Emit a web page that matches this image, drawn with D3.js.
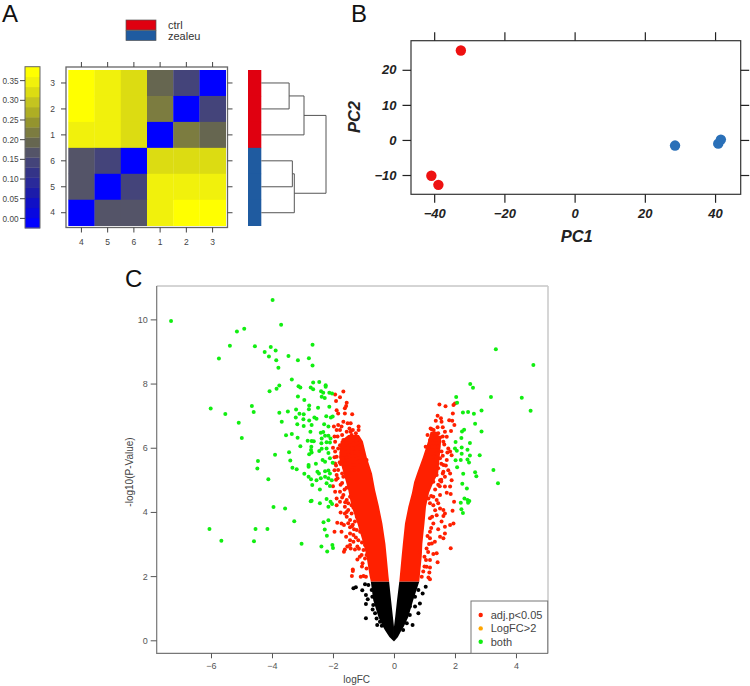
<!DOCTYPE html>
<html>
<head>
<meta charset="utf-8">
<script src="https://d3js.org/d3.v7.min.js"></script>
<style>
	html, body { margin: 0; padding: 0; background: #fff; }
	svg { display: block; }
	text { font-family: "Liberation Sans", Arial, sans-serif; }
</style>
</head>
<body>
<div id="cContainer"></div>
<script>
// panel A
var heatRows = ["3", "2", "1", "6", "5", "4"];
var heatCols = ["4", "5", "6", "1", "2", "3"];
var heatValues = [
	[0.38, 0.35, 0.33, 0.20, 0.14, 0.00],
	[0.38, 0.35, 0.33, 0.23, 0.00, 0.14],
	[0.35, 0.35, 0.33, 0.00, 0.23, 0.20],
	[0.17, 0.14, 0.00, 0.33, 0.33, 0.33],
	[0.17, 0.00, 0.14, 0.35, 0.35, 0.35],
	[0.00, 0.17, 0.17, 0.35, 0.38, 0.38]
];
var keyColors = ["#0000ff", "#0808e0", "#1010c6", "#1c1caa", "#2a2a9a", "#343488", "#44447a", "#545468",
	"#666650", "#7c7c40", "#94942e", "#aeae24", "#c4c420", "#dcdc12", "#f1f10c", "#ffff00"];
var keyTicks = [0, 0.05, 0.10, 0.15, 0.20, 0.25, 0.30, 0.35];
var groupNames = ["ctrl", "zealeu"];
var groupColors = ["#e00010", "#1f5ba0"];
var rowGroups = ["ctrl", "ctrl", "ctrl", "zealeu", "zealeu", "zealeu"];
// dendrogram merge heights, 0 = leaves, 1 = root
var dendroTree = {h: 1, kids: [
	{h: 0.66, kids: [{h: 0.43, kids: [{leaf: "3"}, {leaf: "2"}]}, {leaf: "1"}]},
	{h: 0.51, kids: [{h: 0.48, kids: [{leaf: "6"}, {leaf: "5"}]}, {leaf: "4"}]}
]};

// panel B
var pcaCtrl = [[-32.4, 25.5], [-40.8, -10.2], [-38.8, -12.8]];
var pcaZealeu = [[28.6, -1.6], [40.9, -1.05], [41.65, 0.1]];
var pcaXTicks = [-40, -20, 0, 20, 40];
var pcaYTicks = [-10, 0, 10, 20];

// panel C, dense parts of the cloud as outlines, the rest as single points
var redLeftP = [1.83, 2.0, 2.61, 3.0, 3.64, 4.2, 4.68, 5.2, 5.7, 6.2, 6.4];
var redLeftOuter = [-0.76, -0.80, -0.90, -1.0, -1.2, -1.4, -1.5, -1.65, -1.8, -1.75, -1.5];
var redLeftInner = [-0.16, -0.18, -0.24, -0.28, -0.38, -0.50, -0.62, -0.72, -0.89, -1.02, -1.15];
var redRightP = [1.83, 2.61, 3.0, 3.64, 4.16, 4.6, 4.93, 5.21, 5.71, 6.24, 6.5];
var redRightOuter = [0.83, 0.91, 0.93, 1.0, 1.05, 1.15, 1.3, 1.45, 1.5, 1.55, 1.4];
var redRightInner = [0.175, 0.25, 0.29, 0.36, 0.47, 0.59, 0.66, 0.76, 0.95, 1.13, 1.2];
var blackP = [-0.04, 0.1, 0.32, 0.42, 0.73, 1.25, 1.83];
var blackLeftOuter = [0, -0.15, -0.30, -0.36, -0.51, -0.68, -0.76];
var blackLeftInner = [0, 0, 0, 0, -0.035, -0.095, -0.16];
var blackRightOuter = [0, 0.13, 0.25, 0.32, 0.47, 0.63, 0.83];
var blackRightInner = [0, 0, 0, 0, 0.04, 0.10, 0.175];

var blackPoints = [[-1.33,1.62],[-1.25,1.65],[-1.04,1.56],[-0.95,1.75],[-0.84,1.72],[-0.92,1.41],[-0.86,1.28],[-0.92,1.13],
	[-0.68,1.10],[-0.70,0.96],[-0.92,0.69],[-0.55,0.48],[-0.40,0.45],[-0.62,0.84],[-0.57,0.68],[-0.46,0.58],[1.04,1.67],
	[0.94,1.46],[0.80,1.57],[0.85,1.15],[0.69,1.05],[0.80,0.84],[0.52,0.79],[0.61,0.48],[0.42,0.53],[0.52,1.05],[0.69,1.36],
	[-0.73,1.57],[-0.71,1.36],[0.30,0.32]];

var redPoints = [[-1.93,7.66],[-1.77,7.57],[-1.66,7.75],[-1.90,7.46],[-1.55,7.40],[-1.57,7.30],[-1.61,7.23],[-1.88,7.17],
	[-1.83,7.07],[-1.61,7.07],[-1.37,7.04],[-1.97,6.66],[-1.66,6.81],[-1.83,6.71],[-1.72,6.66],[-1.88,6.55],[-1.77,6.55],
	[-1.52,6.76],[-1.42,6.76],[-1.46,6.60],[-1.42,6.50],[-1.16,6.66],[-1.16,6.55],[-1.39,6.40],[-1.22,6.34],[-1.33,6.26],
	[-1.12,6.19],[-1.93,6.19],[-1.66,6.24],[-1.55,6.14],[-1.44,6.08],[-1.22,6.14],[-1.33,5.98],[-1.77,6.08],[-1.83,5.98],
	[-1.61,5.98],[-1.12,5.98],[-1.93,5.88],[-1.72,5.85],[-1.50,5.88],[-1.28,5.85],[-1.06,5.88],[-1.88,5.72],[-1.66,5.67],
	[-1.22,5.67],[-1.0,5.72],[-1.93,5.51],[-1.75,5.49],[-1.55,5.51],[-1.33,5.46],[-1.12,5.57],[-0.90,5.62],[-1.83,5.31],
	[-1.61,5.36],[-1.39,5.31],[-1.88,5.15],[-1.66,5.10],[-1.9,5.0],[-1.7,4.9],[-1.55,4.75],[-1.7,5.2],[-2.0,4.8],
	[-1.55,5.7],[-1.45,5.75],[-1.78,5.55],[-1.6,5.5],[-1.5,5.1],
	[-1.35,2.21],[-1.35,2.16],[-1.38,2.0],[-1.09,1.98],[-1.0,2.0],[-0.92,1.98],[-1.64,2.76],[-1.61,2.83],[-1.53,2.92],
	[-1.44,2.97],[-1.42,2.86],[-1.28,2.83],[-1.20,2.92],[-1.20,2.52],[-1.03,2.4],[-1.06,2.66],[-0.95,2.55],[-1.57,3.23],
	[-1.44,3.33],[-1.33,3.28],[-1.95,3.38],[-1.72,3.38],[-1.72,3.64],[-1.86,3.66],[-1.64,3.59],[-1.44,3.52],[-1.31,3.46],
	[-1.55,3.85],[-1.44,3.75],[-1.28,3.70],[-1.22,3.85],[-1.39,3.95],[-1.75,3.98],[-1.88,4.21],[-1.61,4.16],[-1.50,4.06],
	[-1.33,4.14],[-1.55,4.37],[-1.66,4.53],[-1.44,4.47],[-1.88,4.42],[-1.77,4.63],[-1.93,4.63],[-1.17,3.12],[-1.11,3.38],
	[-0.95,2.97],[-0.90,2.24],[-1.0,2.81],[-0.90,2.66],[-1.44,3.12],[-1.33,3.07],[-1.22,3.44],[-1.39,4.21],[-1.61,3.95],
	[-1.50,4.27],[-1.77,4.32],
	[-1.05,2.3],[-1.12,2.6],[-1.15,2.85],[-1.05,3.05],[-1.25,3.2],[-1.38,3.55],[-1.5,3.65],[-1.35,3.6],[-1.55,4.0],[-1.6,4.3],
	[-1.7,4.45],[-1.62,4.7],[-1.75,4.85],[-1.85,5.05],[-1.95,5.3],[-1.9,5.45],[-1.95,5.7],[-2.0,6.0],[-1.95,6.35],[-1.85,6.35],
	[-1.7,6.4],[-1.55,6.5],[-1.35,6.55],[-1.25,6.45],
	[1.86,2.87],[1.43,2.43],[1.18,2.27],[1.07,2.29],[1.16,2.11],[1.13,1.96],[1.18,1.90],[0.96,2.14],[0.91,1.98],[1.40,2.71],
	[1.29,2.69],[1.24,3.02],[1.18,3.18],[1.34,3.07],[1.51,3.23],[1.67,3.33],[1.62,3.18],[1.45,3.46],[1.67,3.54],[1.18,3.38],
	[1.29,3.64],[1.95,3.64],[1.56,3.70],[1.84,3.59],[1.62,3.87],[1.67,3.95],[1.40,3.90],[1.18,3.80],[1.92,4.04],[1.51,4.11],
	[1.29,4.21],[1.45,4.27],[1.62,4.06],[1.18,4.27],[1.29,4.47],[1.51,4.53],[1.73,4.6],[1.86,4.56],[1.40,4.37],[1.13,4.42],
	[1.97,4.32],[0.85,2.76],[1.0,2.6],[1.07,2.86],[1.18,2.5],
	[1.0,2.3],[1.05,2.5],[1.12,2.75],[1.15,3.0],[1.1,3.25],[1.22,3.5],[1.25,3.85],[1.35,4.05],[1.22,4.5],[1.35,4.7],[1.45,4.85],
	[1.55,4.95],[1.6,5.2],[1.55,5.5],[1.7,5.45],[1.6,5.75],[1.75,5.85],[1.65,6.1],[1.6,6.35],[1.3,6.55],[1.1,6.4],[1.2,6.6],
	[1.49,7.35],[1.69,7.29],[1.95,7.33],[2.0,7.38],[1.93,7.07],[1.43,7.0],[1.37,6.84],[1.54,6.92],[1.56,6.81],[1.81,6.86],
	[1.91,6.84],[1.98,6.71],[1.24,6.58],[1.43,6.64],[1.60,6.64],[1.87,6.52],[1.67,6.50],[1.32,6.45],[1.45,6.45],[1.73,6.34],
	[1.18,6.24],[1.51,6.32],[1.34,6.24],[1.62,6.19],[1.40,6.14],[1.04,6.03],[1.24,6.03],[1.45,6.03],[1.78,5.98],[1.84,5.88],
	[1.13,5.88],[1.40,5.82],[1.56,5.88],[1.89,5.77],[1.29,5.72],[1.51,5.67],[1.02,5.62],[1.73,5.62],[1.34,5.51],[1.62,5.46],
	[1.78,5.30],[1.45,5.36],[1.62,5.25],[1.84,5.20],[1.40,5.15],[1.67,5.10],[1.51,4.99],[1.89,4.99],[1.29,4.94],[1.67,4.79],
	[1.84,4.79],[1.55,5.0],[1.5,4.8]];

var greenPoints = [[-7.31,9.95],[-3.98,10.60],[-3.70,9.83],[-5.15,9.62],[-4.91,9.71],[-5.38,9.18],[-5.74,8.78],[-4.56,9.16],
	[-4.24,8.98],[-4.04,9.14],[-3.88,9.03],[-4.10,8.84],[-3.86,8.73],[-3.79,8.49],[-3.46,8.86],[-3.15,8.73],[-2.79,8.79],
	[-2.67,9.21],[-2.67,8.56],[-3.35,8.13],[-3.76,7.94],[-3.85,7.84],[-4.08,7.76],[-3.13,7.92],[-3.07,7.88],[-2.73,7.88],
	[-2.65,7.82],[-2.65,8.03],[-2.45,8.05],[-2.24,7.95],[-2.24,7.90],[-2.39,7.76],[-2.32,7.71],[-2.37,7.59],[-2.27,7.55],
	[-2.12,7.71],[-2.03,7.69],[-3.15,7.60],[-2.94,7.49],[-2.78,7.32],[-2.79,7.20],[-2.49,7.25],[-2.12,7.28],[-6.01,7.22],
	[-5.53,7.05],[-4.66,7.30],[-4.60,7.11],[-5.09,6.78],[-4.99,6.30],[-3.76,7.09],[-3.48,7.13],[-3.21,7.19],[-3.10,7.06],
	[-2.96,7.04],[-3.22,6.94],[-2.97,6.89],[-2.78,6.85],[-2.61,6.94],[-2.54,6.90],[-2.22,6.98],[-2.07,6.94],[-2.01,6.97],
	[-3.68,6.81],[-3.17,6.73],[-2.96,6.68],[-2.70,6.71],[-2.29,6.73],[-2.15,6.66],[-2.74,6.50],[-3.54,6.39],[-3.35,6.43],
	[-3.16,6.31],[-2.40,6.47],[-2.32,6.49],[-2.83,6.22],[-2.70,6.21],[-2.63,6.20],[-2.37,6.29],[-2.26,6.37],[-2.15,6.37],
	[-2.08,6.29],[-3.07,6.05],[-2.71,6.03],[-2.38,6.14],[-2.21,6.17],[-2.10,6.16],[-2.72,5.93],[-2.45,5.90],[-2.37,5.97],
	[-2.21,5.98],[-2.15,5.84],[-3.44,5.86],[-3.90,5.78],[-2.78,5.80],[-2.70,5.85],[-4.46,5.59],[-4.48,5.35],[-3.40,5.60],
	[-2.34,5.62],[-2.26,5.56],[-2.10,5.67],[-2.01,5.53],[-2.56,5.50],[-2.80,5.46],[-2.80,5.41],[-3.33,5.38],[-3.19,5.33],
	[-2.94,5.19],[-2.80,5.10],[-2.72,5.02],[-2.51,5.25],[-2.46,5.20],[-2.26,5.27],[-2.15,5.29],[-2.10,5.20],[-2.26,5.10],
	[-2.15,5.05],[-2.54,4.99],[-2.40,5.05],[-2.04,4.99],[-4.12,5.02],[-2.68,4.84],[-2.43,4.70],[-2.21,4.89],[-2.10,4.81],
	[-2.73,4.33],[-2.70,4.35],[-2.43,4.27],[-2.21,4.40],[-2.08,4.32],[-2.03,4.25],[-2.15,4.16],[-3.95,4.15],[-3.57,4.11],
	[-3.27,3.71],[-2.31,3.68],[-2.15,3.74],[-2.27,3.45],[-2.20,3.26],[-3.03,3.01],[-2.38,2.92],[-2.19,2.77],[-2.02,2.97],
	[-2.0,2.88],[-6.05,3.47],[-5.66,3.10],[-4.54,3.47],[-4.15,3.47],[-4.59,3.09],
	[3.34,9.07],[4.57,8.58],[2.50,7.99],[2.59,7.87],[2.04,7.58],[2.07,7.40],[3.18,7.58],[4.19,7.56],[4.48,7.15],[2.26,7.10],
	[2.43,7.11],[2.62,7.06],[2.87,7.16],[2.66,6.75],[2.30,6.56],[2.23,6.51],[2.87,6.51],[2.21,6.30],[2.02,6.18],[2.49,6.15],
	[2.0,5.98],[2.06,5.91],[2.22,6.01],[2.41,5.94],[2.22,5.81],[2.49,5.76],[2.81,5.77],[2.02,5.61],[2.19,5.62],[2.41,5.63],
	[2.46,5.54],[2.07,5.39],[2.27,5.19],[2.66,5.24],[2.70,5.11],[3.26,5.31],[2.24,4.88],[2.39,4.73],[3.41,4.89],[2.31,4.42],
	[2.41,4.37],[2.47,4.34],[2.43,4.29],[2.19,4.29],[2.21,4.08],[2.26,3.97]];

var volcanoXTicks = [-6, -4, -2, 0, 2, 4];
var volcanoYTicks = [0, 2, 4, 6, 8, 10];
var legendNames = ["adj.p<0.05", "LogFC>2", "both"];
var legendColors = ["#ff2000", "#ffa500", "#11ee11"];

var svg = d3.select("#cContainer").append("svg")
	.attr("width", 750)
	.attr("height", 686);

function panelLetter(label, x, y) {
	svg.append("text")
		.attr("x", x)
		.attr("y", y)
		.attr("font-size", 24)
		.attr("fill", "#111")
		.text(label);
}

panelLetter("A", 2, 22);
panelLetter("B", 351, 22);
panelLetter("C", 125, 287);

function styleAxis(g, color, size, weight, style) {
	g.select(".domain").remove();
	g.selectAll("line").attr("stroke", color);
	g.selectAll("text")
		.attr("fill", color)
		.attr("font-size", size)
		.attr("font-weight", weight)
		.attr("font-style", style)
		.style("font-family", "'Liberation Sans', Arial, sans-serif");
}

function drawHeatmap() {
	var x = d3.scaleBand().domain(heatCols).range([68.3, 225.7]);
	var y = d3.scaleBand().domain(heatRows).range([70, 225.7]);
	var color = d3.scaleQuantize().domain([-0.0244, 0.3854]).range(keyColors);

	heatValues.forEach(function(row, i_rows) {
		row.forEach(function(v, i_cols) {
			svg.append("rect")
				.attr("x", x(heatCols[i_cols]))
				.attr("y", y(heatRows[i_rows]))
				.attr("width", x.bandwidth() + 0.3)
				.attr("height", y.bandwidth() + 0.3)
				.attr("fill", color(v));
		});
	});

	svg.append("rect")
		.attr("x", 66)
		.attr("y", 67)
		.attr("width", 161.5)
		.attr("height", 160.5)
		.attr("fill", "none")
		.attr("stroke", "#666")
		.attr("stroke-width", 1.3);

	var axes = [
		{axis: d3.axisBottom(x), at: [0, 227.5], labels: true},
		{axis: d3.axisTop(x), at: [0, 67], labels: false},
		{axis: d3.axisLeft(y), at: [66, 0], labels: true},
		{axis: d3.axisRight(y), at: [227.5, 0], labels: false}
	];
	axes.forEach(function(a) {
		var g = svg.append("g")
			.attr("transform", "translate(" + a.at[0] + "," + a.at[1] + ")")
			.call(a.axis.tickSize(5).tickPadding(6));
		styleAxis(g, "#444", 8.5, "normal", "normal");
		if (!a.labels) {
			g.selectAll("text").remove();
		}
	});

	// colour key
	var keyY = d3.scaleLinear().domain([-0.0244, 0.3854]).range([228, 66.7]);
	var step = (0.3854 + 0.0244) / keyColors.length;
	keyColors.forEach(function(c, i) {
		svg.append("rect")
			.attr("x", 25)
			.attr("y", keyY(-0.0244 + (i + 1) * step))
			.attr("width", 15)
			.attr("height", keyY(-0.0244) - keyY(-0.0244 + step) + 0.3)
			.attr("fill", c);
	});
	svg.append("rect")
		.attr("x", 25)
		.attr("y", 66.7)
		.attr("width", 15)
		.attr("height", 161.3)
		.attr("fill", "none")
		.attr("stroke", "#666")
		.attr("stroke-width", 1);
	var keyAxis = svg.append("g")
		.attr("transform", "translate(25,0)")
		.call(d3.axisLeft(keyY).tickValues(keyTicks).tickFormat(d3.format(".2f")).tickSize(0).tickPadding(6.5));
	styleAxis(keyAxis, "#444", 8.2, "normal", "normal");
	keyTicks.forEach(function(t) {
		svg.append("line")
			.attr("x1", 20)
			.attr("x2", 25)
			.attr("y1", keyY(t))
			.attr("y2", keyY(t))
			.attr("stroke", "#444");
	});

	// group legend
	var groupColor = d3.scaleOrdinal().domain(groupNames).range(groupColors);
	groupNames.forEach(function(n, i) {
		svg.append("rect")
			.attr("x", 126)
			.attr("y", 20 + i * 10.5)
			.attr("width", 30)
			.attr("height", 10)
			.attr("fill", groupColor(n))
			.attr("stroke", "#555")
			.attr("stroke-width", 0.7);
		svg.append("text")
			.attr("x", 168)
			.attr("y", 29.3 + i * 10.7)
			.attr("font-size", 11)
			.attr("fill", "#333")
			.text(n);
	});

	// side bar
	heatRows.forEach(function(r, i) {
		svg.append("rect")
			.attr("x", 248)
			.attr("y", y(r))
			.attr("width", 13.3)
			.attr("height", y.bandwidth() + 0.3)
			.attr("fill", groupColor(rowGroups[i]));
	});

	// dendrogram
	var dendroX = d3.scaleLinear().domain([0, 1]).range([261.3, 326]);
	function walk(node) {
		if (node.leaf) {
			return {x: dendroX(0), y: y(node.leaf) + y.bandwidth() / 2};
		}
		var a = walk(node.kids[0]);
		var b = walk(node.kids[1]);
		var nx = dendroX(node.h);
		svg.append("path")
			.attr("d", "M" + a.x + "," + a.y + "H" + nx + "V" + b.y + "H" + b.x)
			.attr("fill", "none")
			.attr("stroke", "#555")
			.attr("stroke-width", 1);
		return {x: nx, y: (a.y + b.y) / 2};
	}
	walk(dendroTree);
}

function drawPca() {
	var x = d3.scaleLinear().domain([-46.6, 47.3]).range([411, 740.7]);
	var y = d3.scaleLinear().domain([-15.5, 28.3]).range([194.3, 40.7]);

	svg.append("rect")
		.attr("x", 411)
		.attr("y", 40.7)
		.attr("width", 329.7)
		.attr("height", 153.6)
		.attr("fill", "none")
		.attr("stroke", "#333")
		.attr("stroke-width", 1.2);

	var axes = [
		{axis: d3.axisBottom(x).tickValues(pcaXTicks), at: [0, 194.3], labels: true},
		{axis: d3.axisTop(x).tickValues(pcaXTicks), at: [0, 40.7], labels: false},
		{axis: d3.axisLeft(y).tickValues(pcaYTicks), at: [411, 0], labels: true},
		{axis: d3.axisRight(y).tickValues(pcaYTicks), at: [740.7, 0], labels: false}
	];
	axes.forEach(function(a) {
		var g = svg.append("g")
			.attr("transform", "translate(" + a.at[0] + "," + a.at[1] + ")")
			.call(a.axis.tickSize(8.5).tickPadding(6).tickFormat(d3.format("d")));
		styleAxis(g, "#222", 13, "bold", "italic");
		g.selectAll("line").attr("stroke-width", 1.2);
		if (!a.labels) {
			g.selectAll("text").remove();
		}
	});

	svg.selectAll("circle.ctrl")
		.data(pcaCtrl)
		.enter()
		.append("circle")
		.attr("class", "ctrl")
		.attr("cx", function(d) { return x(d[0]); })
		.attr("cy", function(d) { return y(d[1]); })
		.attr("r", 5.2)
		.attr("fill", "#ee1111");
	svg.selectAll("circle.zealeu")
		.data(pcaZealeu)
		.enter()
		.append("circle")
		.attr("class", "zealeu")
		.attr("cx", function(d) { return x(d[0]); })
		.attr("cy", function(d) { return y(d[1]); })
		.attr("r", 5.2)
		.attr("fill", "#2a70b8");

	svg.append("text")
		.attr("x", 576.7)
		.attr("y", 242)
		.attr("text-anchor", "middle")
		.attr("font-size", 16.5)
		.attr("font-weight", "bold")
		.attr("font-style", "italic")
		.attr("fill", "#222")
		.text("PC1");
	svg.append("text")
		.attr("transform", "translate(360,117) rotate(-90)")
		.attr("text-anchor", "middle")
		.attr("font-size", 16.5)
		.attr("font-weight", "bold")
		.attr("font-style", "italic")
		.attr("fill", "#222")
		.text("PC2");
}

function coreArea(x, y, levels, outer, inner, color) {
	var rows = levels.map(function(p, i) {
		return {p: p, outer: outer[i], inner: inner[i]};
	});
	var area = d3.area()
		.y(function(d) { return y(d.p); })
		.x0(function(d) { return x(d.outer); })
		.x1(function(d) { return x(d.inner); });
	svg.append("path")
		.datum(rows)
		.attr("d", area)
		.attr("fill", color);
}

function drawVolcano() {
	var x = d3.scaleLinear().domain([-7.78, 5.05]).range([156.7, 548]);
	var y = d3.scaleLinear().domain([-0.405, 11.04]).range([653.3, 286]);

	// R frame is dark on the left and bottom, faded on the other two sides
	svg.append("path").attr("d", "M156.7,286H548").attr("stroke", "#aaa").attr("fill", "none");
	svg.append("path").attr("d", "M548,286V653.3").attr("stroke", "#ccc").attr("stroke-width", 1.6).attr("fill", "none");
	svg.append("path").attr("d", "M156.7,286V653.3H548").attr("stroke", "#777").attr("stroke-width", 1.2).attr("fill", "none");

	var xAxis = svg.append("g")
		.attr("transform", "translate(0,653.3)")
		.call(d3.axisBottom(x).tickValues(volcanoXTicks).tickSize(5).tickPadding(4).tickFormat(d3.format("d")));
	styleAxis(xAxis, "#555", 9, "normal", "normal");
	var yAxis = svg.append("g")
		.attr("transform", "translate(156.7,0)")
		.call(d3.axisLeft(y).tickValues(volcanoYTicks).tickSize(6).tickPadding(3).tickFormat(d3.format("d")));
	styleAxis(yAxis, "#555", 9, "normal", "normal");

	coreArea(x, y, blackP, blackLeftOuter, blackLeftInner, "#000");
	coreArea(x, y, blackP, blackRightOuter, blackRightInner, "#000");
	coreArea(x, y, redLeftP, redLeftOuter, redLeftInner, "#ff2000");
	coreArea(x, y, redRightP, redRightOuter, redRightInner, "#ff2000");

	var layers = [
		{name: "black", data: blackPoints, color: "#000"},
		{name: "red", data: redPoints, color: "#ff2000"},
		{name: "green", data: greenPoints, color: "#11ee11"}
	];
	layers.forEach(function(l) {
		svg.selectAll("circle." + l.name)
			.data(l.data)
			.enter()
			.append("circle")
			.attr("class", l.name)
			.attr("cx", function(d) { return x(d[0]); })
			.attr("cy", function(d) { return y(d[1]); })
			.attr("r", 2)
			.attr("fill", l.color);
	});

	svg.append("text")
		.attr("x", 356.7)
		.attr("y", 682.5)
		.attr("text-anchor", "middle")
		.attr("font-size", 10)
		.attr("fill", "#444")
		.text("logFC");
	svg.append("text")
		.attr("transform", "translate(132.5,472) rotate(-90)")
		.attr("text-anchor", "middle")
		.attr("font-size", 10)
		.attr("fill", "#444")
		.text("-log10(P-Value)");

	svg.append("rect")
		.attr("x", 471)
		.attr("y", 601)
		.attr("width", 76.7)
		.attr("height", 52.3)
		.attr("fill", "#fff")
		.attr("stroke", "#777")
		.attr("stroke-width", 1);
	legendNames.forEach(function(n, i) {
		svg.append("circle")
			.attr("cx", 480.7)
			.attr("cy", 615 + i * 13.4)
			.attr("r", 2.2)
			.attr("fill", legendColors[i]);
		svg.append("text")
			.attr("x", 490.7)
			.attr("y", 618.8 + i * 13.4)
			.attr("font-size", 11)
			.attr("fill", "#444")
			.text(n);
	});
}

drawHeatmap();
drawPca();
drawVolcano();
</script>
</body>
</html>
